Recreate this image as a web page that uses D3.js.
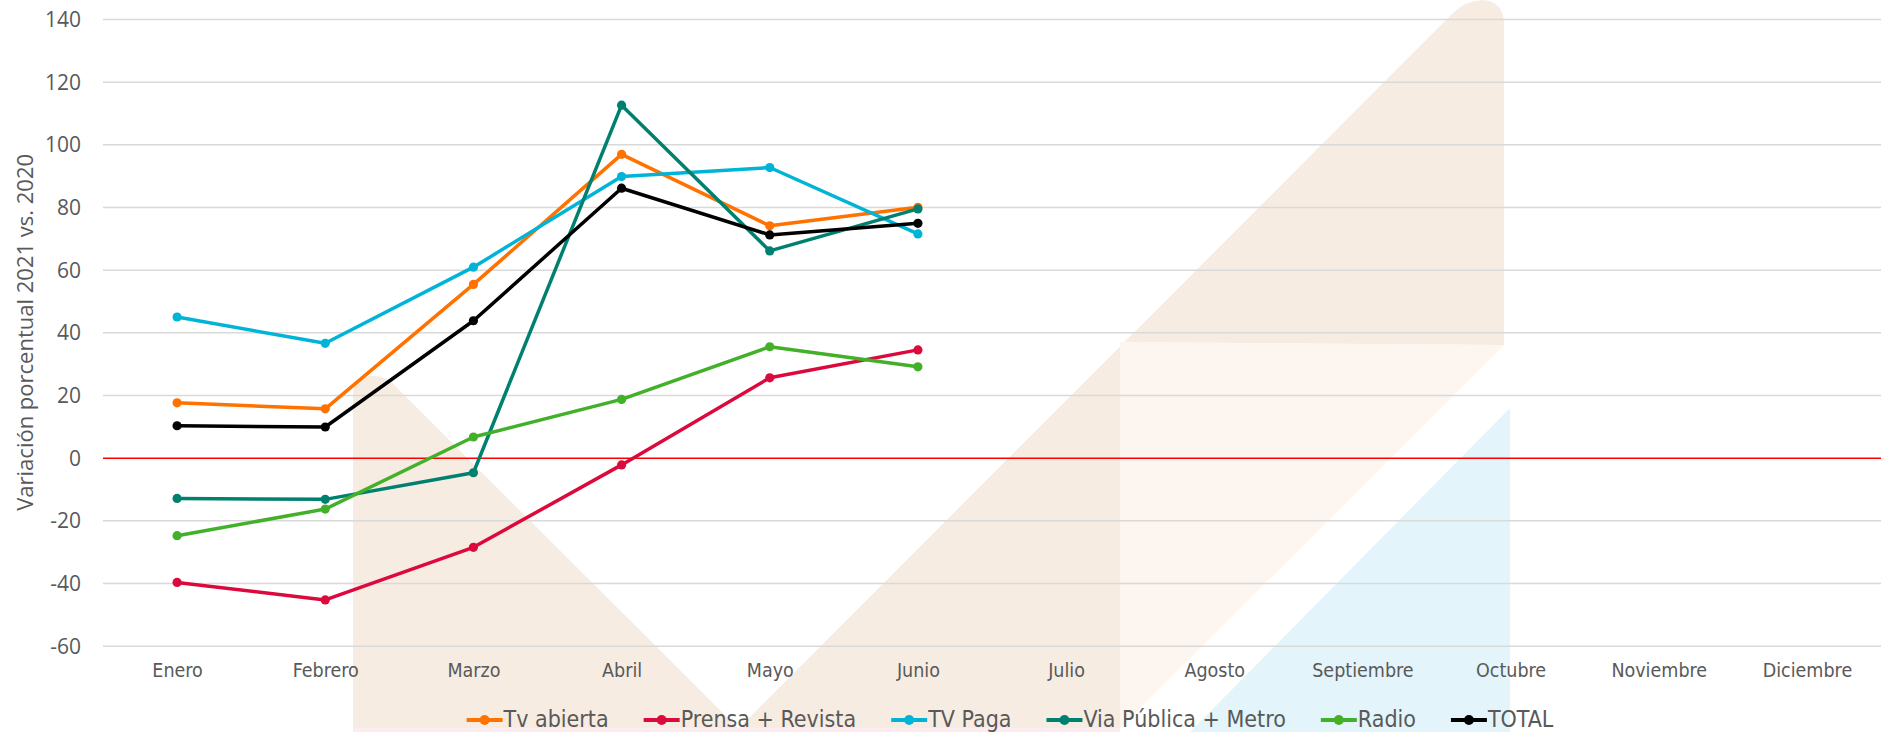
<!DOCTYPE html>
<html>
<head>
<meta charset="utf-8">
<script src="https://cdn.jsdelivr.net/npm/d3@7"></script>
<style>
  html, body { margin: 0; padding: 0; background: #fff; }
  svg { display: block; }
</style>
</head>
<body>
<div id="chart"></div>
<script>
// values
const months = ['Enero', 'Febrero', 'Marzo', 'Abril', 'Mayo', 'Junio',
  'Julio', 'Agosto', 'Septiembre', 'Octubre', 'Noviembre', 'Diciembre']
const yTicks = [-60, -40, -20, 0, 20, 40, 60, 80, 100, 120, 140]

const tvAbierta = [17.5, 15.6, 55.3, 96.8, 74.0, 79.9]
const prensaRevista = [-39.8, -45.4, -28.6, -2.3, 25.5, 34.4]
const tvPaga = [44.9, 36.5, 60.8, 89.7, 92.6, 71.4]
const viaPublica = [-13.0, -13.3, -4.8, 112.5, 66.0, 79.4]
const radio = [-24.9, -16.4, 6.6, 18.6, 35.4, 29.0]
const total = [10.2, 9.8, 43.7, 86.0, 71.1, 74.8]

const seriesNames = ['Tv abierta', 'Prensa + Revista', 'TV Paga', 'Via Pública + Metro', 'Radio', 'TOTAL']
const seriesValues = [tvAbierta, prensaRevista, tvPaga, viaPublica, radio, total]
const seriesColors = ['#ff7200', '#dc0a3c', '#00b4d8', '#00806f', '#43b02a', '#000000']

const W = 1881, H = 732
const plot = {left: 103, right: 1881, top: 19, bottom: 645.7}

const svg = d3.select('#chart').append('svg')
  .attr('width', W)
  .attr('height', H)

// faint logo watermark behind the plot
const wm = svg.append('g').attr('class', 'watermark')
wm.append('path')
  .attr('d', 'M353 732 L353 396 Q353 376 373 376 Q386 376 393 384 L742 732 Z')
  .attr('fill', '#f6ece2')
wm.append('path')
  .attr('d', 'M735 732 L1452 14 Q1466 0 1483 0 Q1504 2 1504 24 L1504 345 L1120 342 L1120 732 Z')
  .attr('fill', '#f6ece2')
wm.append('path')
  .attr('d', 'M1120 342 L1504 345 L1116 732 L1120 732 Z')
  .attr('fill', '#fdf5ef')
wm.append('path')
  .attr('d', 'M1510 408 L1510 732 L1190 732 Z')
  .attr('fill', '#e3f4fb')
wm.append('rect')
  .attr('x', 353).attr('y', 728).attr('width', 767).attr('height', 4)
  .attr('fill', '#fcecf0')

const x = d3.scalePoint()
  .domain(months)
  .range([plot.left, plot.right])
  .padding(0.5)

const y = d3.scaleLinear()
  .domain([-60, 140])
  .range([plot.bottom, plot.top])

// y grid + labels
const yAxis = svg.append('g')
  .attr('transform', `translate(${plot.left},0)`)
  .call(d3.axisLeft(y)
    .tickValues(yTicks)
    .tickSize(-(plot.right - plot.left))
    .tickPadding(22)
    .tickFormat(d => String(d)))
yAxis.select('.domain').remove()
yAxis.selectAll('line')
  .attr('stroke', d => d === 0 ? '#ff0000' : '#d9d9d9')
  .attr('stroke-width', 1.5)
yAxis.selectAll('text')
  .attr('fill', '#595959')
  .attr('font-family', '"Open Sans", "Noto Sans", sans-serif')
  .attr('font-size', 21)
  .attr('dy', '0.36em')

// x labels
const xAxis = svg.append('g')
  .attr('transform', 'translate(0,677)')
  .call(d3.axisBottom(x).tickSize(0).tickPadding(0))
xAxis.select('.domain').remove()
xAxis.selectAll('text')
  .attr('dy', 0)
  .attr('fill', '#595959')
  .attr('font-family', '"DejaVu Sans Condensed", "DejaVu Sans", sans-serif')
  .attr('font-stretch', 'condensed')
  .attr('font-size', 19.5)

// y title
svg.append('text')
  .attr('transform', `translate(33,${(plot.top + plot.bottom) / 2}) rotate(-90)`)
  .attr('text-anchor', 'middle')
  .attr('fill', '#595959')
  .attr('font-family', '"Open Sans", "Noto Sans", sans-serif')
  .attr('font-size', 22)
  .text('Variación porcentual 2021 vs. 2020')

// series
const line = d3.line()
  .x((d, i) => x(months[i]))
  .y(d => y(d))

seriesValues.forEach((vals, k) => {
  const g = svg.append('g')
  g.append('path')
    .datum(vals)
    .attr('d', line)
    .attr('fill', 'none')
    .attr('stroke', seriesColors[k])
    .attr('stroke-width', 3.5)
    .attr('stroke-linejoin', 'round')
  g.selectAll('circle')
    .data(vals)
    .enter()
    .append('circle')
    .attr('cx', (d, i) => x(months[i]))
    .attr('cy', d => y(d))
    .attr('r', 4.6)
    .attr('fill', seriesColors[k])
})

// legend
const legend = svg.append('g')
const items = legend.selectAll('g')
  .data(seriesNames)
  .enter()
  .append('g')
items.append('line')
  .attr('x1', 0).attr('x2', 36)
  .attr('y1', 720).attr('y2', 720)
  .attr('stroke', (d, i) => seriesColors[i])
  .attr('stroke-width', 4)
items.append('circle')
  .attr('cx', 18).attr('cy', 720).attr('r', 5)
  .attr('fill', (d, i) => seriesColors[i])
items.append('text')
  .attr('x', 37)
  .attr('y', 727)
  .attr('fill', '#595959')
  .attr('font-family', '"DejaVu Sans Condensed", "DejaVu Sans", sans-serif')
  .attr('font-stretch', 'condensed')
  .attr('font-size', 23)
  .text(d => d)

const widths = []
items.each(function () {
  widths.push(37 + d3.select(this).select('text').node().getComputedTextLength())
})
const gap = 35
const totalW = d3.sum(widths) + gap * (widths.length - 1)
let cx = 1010 - totalW / 2
items.attr('transform', (d, i) => {
  const t = `translate(${cx},0)`
  cx += widths[i] + gap
  return t
})
</script>
</body>
</html>
